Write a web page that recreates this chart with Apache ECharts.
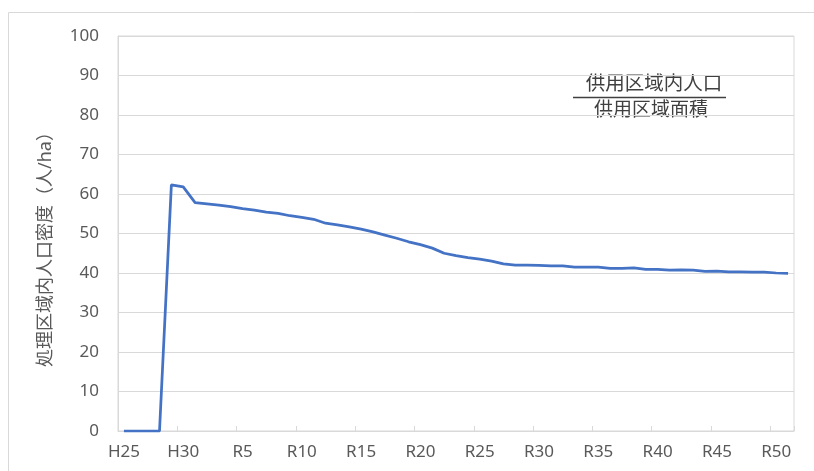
<!DOCTYPE html>
<html>
<head>
<meta charset="utf-8">
<style>
  html, body { margin: 0; padding: 0; background: #ffffff; }
  #chart { width: 814px; height: 471px; }
</style>
<script src="https://cdn.jsdelivr.net/npm/echarts@6/dist/echarts.min.js"></script>
</head>
<body>
<div id="chart"></div>
<script>
// Fiscal years: Heisei 25–30, then Reiwa 1–51
const years = ['H25', 'H26', 'H27', 'H28', 'H29', 'H30'];
for (let r = 1; r <= 51; r++) years.push('R' + r);

// Population density in the treatment area (persons/ha)
const density = [
  0, 0, 0, 0, 62.3, 61.8,
  57.8, 57.5, 57.2, 56.8, 56.3, 55.9, 55.4, 55.1, 54.5, 54.1,
  53.6, 52.6, 52.2, 51.7, 51.1, 50.4, 49.6, 48.8, 47.9, 47.2,
  46.3, 45.0, 44.4, 43.9, 43.5, 43.0, 42.3, 42.0, 42.0, 41.9,
  41.8, 41.8, 41.5, 41.5, 41.5, 41.2, 41.2, 41.3, 40.9, 40.9,
  40.7, 40.8, 40.7, 40.4, 40.5, 40.3, 40.3, 40.2, 40.2, 40.0,
  39.9
];

const yTicks = { min: 0, max: 100, step: 10 };
const axisTitle = '処理区域内人口密度（人/ha）';
const fracTop = '供用区域内人口';
const fracBottom = '供用区域面積';

const textColor = '#595959';
const gridColor = '#d9d9d9';
const lineColor = '#4472c4';
const fontFamily = '"Noto Sans", "Noto Sans CJK JP", sans-serif';

const chart = echarts.init(document.getElementById('chart'), null, { renderer: 'canvas' });

chart.setOption({
  animation: false,
  backgroundColor: '#ffffff',
  grid: {
    left: 118, right: 20, top: 36, bottom: 40,
    show: true, borderColor: gridColor, borderWidth: 1,
    containLabel: false, outerBoundsMode: 'none'
  },
  xAxis: {
    type: 'category',
    data: years,
    boundaryGap: true,
    axisLine: { lineStyle: { color: gridColor, width: 1 } },
    axisTick: { show: true, interval: 4, alignWithLabel: false, inside: true, length: 5, lineStyle: { color: gridColor } },
    axisLabel: { interval: 4, color: textColor, fontSize: 17, fontFamily: fontFamily, margin: 13 },
    splitLine: { show: false }
  },
  yAxis: {
    type: 'value',
    min: yTicks.min, max: yTicks.max, interval: yTicks.step,
    axisLine: { show: true, lineStyle: { color: gridColor, width: 1 } },
    axisTick: { show: false },
    axisLabel: { color: textColor, fontSize: 17, fontFamily: fontFamily, margin: 19 },
    splitLine: { show: true, lineStyle: { color: gridColor, width: 1 } }
  },
  series: [{
    type: 'line',
    data: density,
    symbol: 'none',
    smooth: false,
    lineStyle: { color: lineColor, width: 2.75 },
    z: 3
  }],
  graphic: [
    // outer chart frame
    {
      type: 'rect', silent: true, z: -1,
      shape: { x: 8.5, y: 12.5, width: 820, height: 480 },
      style: { fill: 'none', stroke: gridColor, lineWidth: 1 }
    },
    // vertical axis title
    {
      type: 'text', silent: true,
      x: 46, y: 245, rotation: Math.PI / 2,
      style: {
        text: axisTitle, fill: textColor, fontSize: 18, fontFamily: fontFamily,
        align: 'center', verticalAlign: 'middle'
      }
    },
    // formula box: population served / area served
    {
      type: 'group', z: 10,
      children: [
        {
          type: 'rect', silent: true,
          shape: { x: 563, y: 66, width: 187, height: 60 },
          style: { fill: '#ffffff' }
        },
        {
          type: 'text', silent: true, x: 654, y: 84,
          style: { text: fracTop, fill: '#404040', fontSize: 19.5, fontFamily: fontFamily, align: 'center', verticalAlign: 'middle' }
        },
        {
          type: 'line', silent: true,
          shape: { x1: 573, y1: 97.5, x2: 726, y2: 97.5 },
          style: { stroke: '#404040', lineWidth: 1.5 }
        },
        {
          type: 'text', silent: true, x: 651, y: 111,
          style: { text: fracBottom, fill: '#404040', fontSize: 19, fontFamily: fontFamily, align: 'center', verticalAlign: 'middle' }
        }
      ]
    }
  ]
});
</script>
</body>
</html>
